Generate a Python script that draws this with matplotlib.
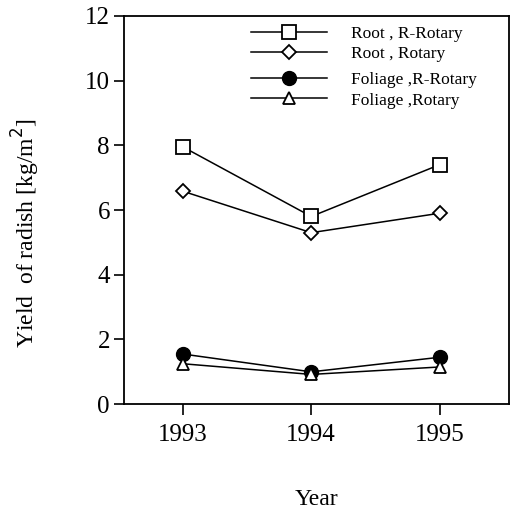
import matplotlib.pyplot as plt

years = [1993, 1994, 1995]
root_rrot = [7.95, 5.8, 7.4]
root_rot = [6.58, 5.3, 5.9]
fol_rrot = [1.55, 1.0, 1.45]
fol_rot = [1.25, 0.92, 1.15]

plt.rcParams['font.family'] = ['Liberation Serif', 'DejaVu Serif']

fig = plt.figure(figsize=(5.14, 5.11), dpi=100)
ax = fig.add_axes([0.241, 0.209, 0.749, 0.760])

kw = dict(color='black', lw=1.1)
l1, = ax.plot(years, root_rrot, marker='s', ms=10, mfc='white', mec='black', mew=1.3, **kw)
l2, = ax.plot(years, root_rot, marker='D', ms=7, mfc='white', mec='black', mew=1.3, **kw)
l3, = ax.plot(years, fol_rrot, marker='o', ms=10, mfc='black', mec='black', **kw)
l4, = ax.plot(years, fol_rot, marker='^', ms=8, mfc='white', mec='black', mew=1.3, **kw)

ax.set_xlim(1992.54, 1995.54)
ax.set_ylim(0, 12)
ax.set_xticks(years)
ax.set_yticks(range(0, 13, 2))
ax.tick_params(axis='x', direction='out', length=8, width=1.2, labelsize=18, pad=6)
ax.tick_params(axis='y', direction='out', length=7, width=1.2, labelsize=18, pad=3)
for s in ax.spines.values():
    s.set_linewidth(1.3)

ax.set_xlabel('Year', fontsize=17, va='center')
ax.xaxis.set_label_coords(0.5, -0.245)
ax.set_ylabel('Yield  of radish [kg/m$^2$]', fontsize=17, va='center')
ax.yaxis.set_label_coords(-0.255, 0.44)

lkw = dict(loc='upper left', frameon=False, fontsize=12.5, handlelength=4.4,
           labelspacing=0.235, handletextpad=1.4, borderaxespad=0, borderpad=0)
leg1 = ax.legend([l1, l2], ['Root , R-Rotary', 'Root , Rotary'],
                 bbox_to_anchor=(0.329, 0.975), **lkw)
ax.add_artist(leg1)
ax.legend([l3, l4], ['Foliage ,R-Rotary', 'Foliage ,Rotary'],
          bbox_to_anchor=(0.329, 0.855), **lkw)

fig.savefig('out.png', dpi=100)
